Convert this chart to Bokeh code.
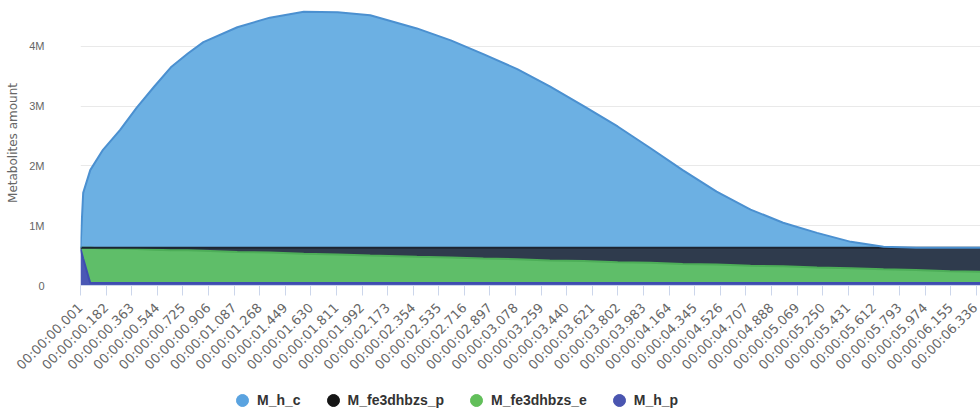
import math
from bokeh.plotting import figure
from bokeh.layouts import column
from bokeh.models import (ColumnDataSource, Range1d, FixedTicker, Legend, LegendItem)
from bokeh.transform import stack
from bokeh.embed import file_html
from bokeh.resources import INLINE

# ---- data (times in ms, values in millions) ----
time_ms = [1, 20, 70, 160, 280, 400, 520, 640, 760, 870, 1110, 1340, 1580, 1820, 2050,
           2380, 2620, 2850, 3090, 3320, 3560, 3800, 4030, 4260, 4500, 4740, 4970, 5210,
           5450, 5680, 5910, 6150, 6370]
M_h_c = [0.00, 0.92, 1.30, 1.64, 1.97, 2.35, 2.69, 3.02, 3.25, 3.44, 3.69, 3.85, 3.95, 3.94,
         3.89, 3.67, 3.47, 3.24, 2.99, 2.70, 2.37, 2.03, 1.67, 1.30, 0.94, 0.64, 0.42, 0.25,
         0.10, 0.02, 0.00, 0.00, 0.00]
M_fe3dhbzs_p = [0.00, 0.00, 0.00, 0.01, 0.01, 0.02, 0.03, 0.04, 0.04, 0.05, 0.07, 0.08, 0.10,
                0.11, 0.13, 0.15, 0.16, 0.18, 0.19, 0.21, 0.22, 0.24, 0.25, 0.27, 0.28, 0.30,
                0.31, 0.33, 0.34, 0.36, 0.37, 0.39, 0.40]
M_fe3dhbzs_e = [0.01, 0.18, 0.59, 0.58, 0.58, 0.57, 0.56, 0.55, 0.55, 0.54, 0.52, 0.51, 0.49,
                0.48, 0.46, 0.44, 0.43, 0.41, 0.40, 0.38, 0.37, 0.35, 0.34, 0.32, 0.31, 0.29,
                0.28, 0.26, 0.25, 0.23, 0.22, 0.20, 0.19]
M_h_p = [0.62, 0.45, 0.04, 0.04, 0.04, 0.04, 0.04, 0.04, 0.04, 0.04, 0.04, 0.04, 0.04, 0.04,
         0.04, 0.04, 0.04, 0.04, 0.04, 0.04, 0.04, 0.04, 0.04, 0.04, 0.04, 0.04, 0.04, 0.04,
         0.04, 0.04, 0.04, 0.04, 0.04]

tick_labels = ["00:00:00.001", "00:00:00.182", "00:00:00.363", "00:00:00.544", "00:00:00.725",
               "00:00:00.906", "00:00:01.087", "00:00:01.268", "00:00:01.449", "00:00:01.630",
               "00:00:01.811", "00:00:01.992", "00:00:02.173", "00:00:02.354", "00:00:02.535",
               "00:00:02.716", "00:00:02.897", "00:00:03.078", "00:00:03.259", "00:00:03.440",
               "00:00:03.621", "00:00:03.802", "00:00:03.983", "00:00:04.164", "00:00:04.345",
               "00:00:04.526", "00:00:04.707", "00:00:04.888", "00:00:05.069", "00:00:05.250",
               "00:00:05.431", "00:00:05.612", "00:00:05.793", "00:00:05.974", "00:00:06.155",
               "00:00:06.336"]
y_ticks = [0, 1, 2, 3, 4]
y_tick_labels = ["0", "1M", "2M", "3M", "4M"]

series_names = ["M_h_c", "M_fe3dhbzs_p", "M_fe3dhbzs_e", "M_h_p"]
fill_colors = ["#6cb0e3", "#2f3b4d", "#5fbe69", "#4a58b5"]
line_colors = ["#4b90d0", "#1c2430", "#4dae58", "#3e4db0"]
legend_colors = ["#5aa3e0", "#151515", "#62bf5a", "#4a55b0"]


def to_ms(lbl):
    hh, mm, ss = lbl.split(":")
    return int(round((int(hh) * 3600 + int(mm) * 60 + float(ss)) * 1000))

tick_pos = [to_ms(l) for l in tick_labels]

src = ColumnDataSource(dict(t=time_ms, M_h_c=M_h_c, M_fe3dhbzs_p=M_fe3dhbzs_p,
                            M_fe3dhbzs_e=M_fe3dhbzs_e, M_h_p=M_h_p))

p = figure(width=980, height=380, output_backend="svg", toolbar_location=None,
           x_range=Range1d(1, 6366), y_range=Range1d(0, 4.767),
           min_border_left=80, min_border_right=0, min_border_top=0, min_border_bottom=94)
p.outline_line_color = None
p.background_fill_color = "white"
p.border_fill_color = "white"

order = ["M_h_p", "M_fe3dhbzs_e", "M_fe3dhbzs_p", "M_h_c"]  # bottom to top
col_of = {n: (fill_colors[i], line_colors[i]) for i, n in enumerate(series_names)}
p.varea_stack(stackers=order, x="t", source=src,
              color=[col_of[n][0] for n in order], alpha=1.0)
for k, n in enumerate(order):
    p.line(x="t", y=stack(*order[:k + 1]), source=src,
           line_color=col_of[n][1], line_width=2)

# axes
p.xgrid.grid_line_color = None
p.ygrid.grid_line_color = "#e9e9e9"
p.ygrid.ticker = FixedTicker(ticks=y_ticks)

xa = p.xaxis[0]
xa.ticker = FixedTicker(ticks=tick_pos)
xa.major_label_overrides = {tp: tl for tp, tl in zip(tick_pos, tick_labels)}
xa.major_label_orientation = math.pi / 4
xa.major_label_text_font = "DejaVu Sans"
xa.major_label_text_font_size = "13px"
xa.major_label_text_color = "#666666"
xa.axis_line_color = "#ccd6eb"
xa.major_tick_line_color = "#ccd6eb"
xa.major_tick_out = 10
xa.major_tick_in = 0
xa.minor_tick_line_color = None
xa.major_label_standoff = 10

ya = p.yaxis[0]
ya.ticker = FixedTicker(ticks=y_ticks)
ya.major_label_overrides = {v: s for v, s in zip(y_ticks, y_tick_labels)}
ya.axis_line_color = None
ya.major_tick_line_color = None
ya.minor_tick_line_color = None
ya.major_label_standoff = 30
ya.major_label_text_font = "Liberation Sans"
ya.major_label_text_font_size = "11px"
ya.major_label_text_color = "#666666"
ya.axis_label = "Metabolites amount"
ya.axis_label_text_font = "DejaVu Sans"
ya.axis_label_text_font_style = "normal"
ya.axis_label_text_font_size = "12px"
ya.axis_label_text_color = "#666666"
ya.axis_label_standoff = 6

# legend figure below the chart
lf = figure(width=980, height=40, output_backend="svg", toolbar_location=None,
            x_range=Range1d(0, 1), y_range=Range1d(0, 1),
            min_border_left=0, min_border_right=0, min_border_top=0, min_border_bottom=0)
lf.axis.visible = False
lf.grid.visible = False
lf.outline_line_color = None
items = []
for i, n in enumerate(series_names):
    r = lf.scatter(x=[-10], y=[-10], marker="circle", fill_color=legend_colors[i],
                   line_color=legend_colors[i], size=12)
    items.append(LegendItem(label=n, renderers=[r]))
legend = Legend(items=items, orientation="horizontal", location=(147, 5),
                glyph_width=30, glyph_height=30, label_standoff=0, spacing=17,
                label_text_font="Liberation Sans", label_text_font_style="bold",
                label_text_font_size="14px", label_text_color="#333333",
                border_line_color=None, background_fill_alpha=0, padding=0, margin=0)
lf.add_layout(legend, "center")

layout = column(p, lf, spacing=0)
open("out.html", "w").write(file_html(layout, INLINE))
